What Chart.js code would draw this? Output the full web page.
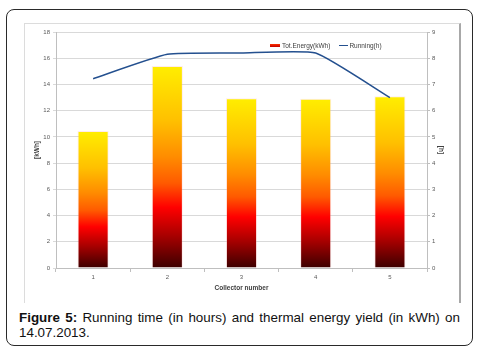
<!DOCTYPE html>
<html>
<head>
<meta charset="utf-8">
<script src="https://cdn.jsdelivr.net/npm/chart.js@4/dist/chart.umd.min.js"></script>
<style>
  html, body { margin: 0; padding: 0; background: #fff; }
  body { width: 479px; height: 358px; position: relative; overflow: hidden; font-family: "Liberation Sans", Arial, sans-serif; }
  #outer { position: absolute; left: 6px; top: 9px; width: 465px; height: 335px; border: 1.5px solid #2a2a2a; border-radius: 8px; }
  #frame { position: absolute; left: 24px; top: 23px; width: 434px; height: 279px; border-top: 1px solid #dcdcdc; border-left: 1px solid #dcdcdc; border-right: 2px solid #a8a8a8; }
  #wrap { position: absolute; left: 24px; top: 23px; width: 436px; height: 279px; }
  #legend { position: absolute; left: 270px; top: 41px; font-size: 6.5px; color: #404040; white-space: nowrap; }
  #legend span { display: inline-block; vertical-align: middle; }
  .sw-bar { width: 10px; height: 3px; background: linear-gradient(#ff3000, #c00000); margin-right: 2px; }
  .sw-line { width: 9px; height: 1px; background: #24508f; margin-left: 9px; margin-right: 1px; }
  #caption { position: absolute; left: 19px; top: 310px; width: 441px; font-size: 13.4px; line-height: 15px; color: #111; text-align: justify; }
</style>
</head>
<body>
<div id="outer"></div>
<div id="frame"></div>
<div id="wrap"><canvas id="c" width="436" height="279"></canvas></div>
<div id="legend"></div>
<div id="caption"><b>Figure 5:</b> Running time (in hours) and thermal energy yield (in kWh) on 14.07.2013.</div>
<script>
  const categories = ["1", "2", "3", "4", "5"];
  const energyLabel = "Tot.Energy(kWh)";
  const runningLabel = "Running(h)";
  const energyKWh = [10.45, 15.4, 12.95, 12.9, 13.1];
  const runningH = [7.22, 8.15, 8.2, 8.2, 6.5];

  const tickFont = { family: "'Liberation Sans', Arial, sans-serif", size: 6 };
  const titleFont = { family: "'Liberation Sans', Arial, sans-serif", size: 6.5, weight: "bold" };
  const gridColor = "#d9d9d9";

  // legend as html, built from the series names
  document.getElementById("legend").innerHTML =
    `<span class="sw-bar"></span><span>${energyLabel}</span>` +
    `<span class="sw-line"></span><span>${runningLabel}</span>`;

  // vertical gradient for each bar, top yellow to dark red at the base
  const barFill = (ctx) => {
    const chart = ctx.chart;
    if (!chart.chartArea || ctx.dataIndex == null) return "#ff8000";
    const y = chart.scales.y;
    const top = y.getPixelForValue(energyKWh[ctx.dataIndex]);
    const base = y.getPixelForValue(0);
    const g = chart.ctx.createLinearGradient(0, top, 0, base);
    g.addColorStop(0, "#ffee00");
    g.addColorStop(0.27, "#ffc000");
    g.addColorStop(0.45, "#ff8c00");
    g.addColorStop(0.58, "#ff5a00");
    g.addColorStop(0.7, "#ff0000");
    g.addColorStop(0.84, "#a80000");
    g.addColorStop(1, "#3c0000");
    return g;
  };

  new Chart(document.getElementById("c"), {
    data: {
      labels: categories,
      datasets: [
        {
          type: "line",
          label: runningLabel,
          data: runningH,
          yAxisID: "y1",
          borderColor: "#24508f",
          borderWidth: 1.5,
          pointRadius: 0,
          tension: 0.15,
          order: 0,
        },
        {
          type: "bar",
          label: energyLabel,
          data: energyKWh,
          yAxisID: "y",
          backgroundColor: barFill,
          borderColor: "rgba(255,190,190,0.3)",
          borderWidth: 1,
          categoryPercentage: 1,
          barPercentage: 0.42,
          order: 1,
        },
      ],
    },
    options: {
      responsive: false,
      animation: false,
      layout: { padding: { left: 0, right: 0, top: 9, bottom: 0 } },
      plugins: { legend: { display: false }, tooltip: { enabled: false } },
      scales: {
        x: {
          offset: true,
          afterFit: (s) => { s.height = 34; },
          grid: { offset: true, drawOnChartArea: false, color: "#bfbfbf", tickLength: 4 },
          border: { color: "#bfbfbf" },
          ticks: { font: tickFont, color: "#595959", padding: 2 },
          title: { display: true, text: "Collector number", font: titleFont, color: "#404040", padding: { top: 0, bottom: 10 } },
        },
        y: {
          position: "left",
          min: 0, max: 18,
          afterFit: (s) => { s.width = 32; },
          grid: { color: gridColor, tickLength: 3 },
          border: { color: "#bfbfbf" },
          ticks: { stepSize: 2, font: tickFont, color: "#595959", padding: 3 },
          title: { display: true, text: "[kWh]", font: titleFont, color: "#404040", padding: { top: 9, bottom: 0 } },
        },
        y1: {
          position: "right",
          min: 0, max: 9,
          afterFit: (s) => { s.width = 33; },
          grid: { drawOnChartArea: false, color: "#bfbfbf", tickLength: 3 },
          border: { color: "#bfbfbf" },
          ticks: { stepSize: 1, font: tickFont, color: "#595959", padding: 2 },
          title: { display: true, text: "[h]", font: titleFont, color: "#404040", padding: { top: 15, bottom: 0 } },
        },
      },
    },
  });
</script>
</body>
</html>
